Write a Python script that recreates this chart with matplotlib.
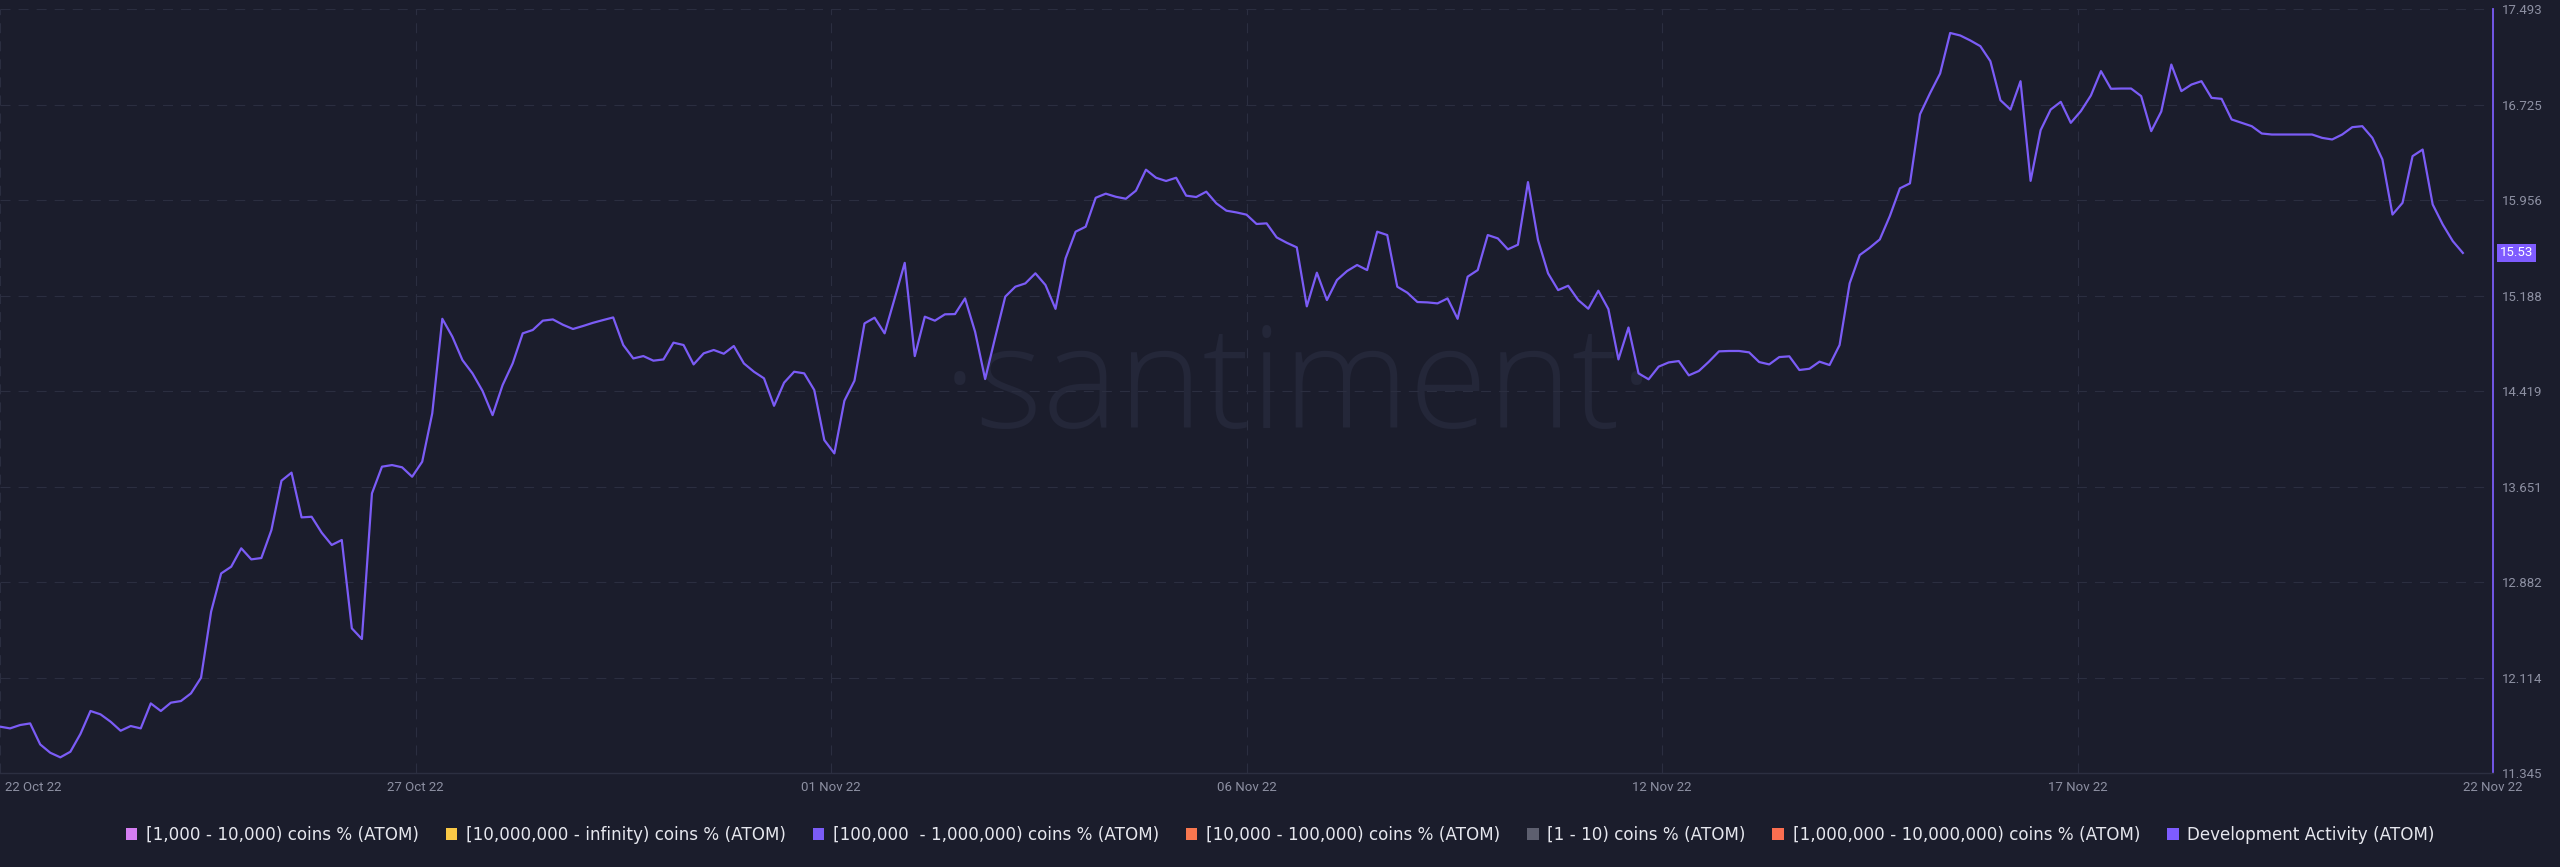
import matplotlib
matplotlib.use("Agg")
import matplotlib.pyplot as plt
import matplotlib.dates as mdates
from matplotlib import transforms
from matplotlib.patches import Patch
import numpy as np
import pandas as pd

plt.rcParams["lines.scale_dashes"] = False

# ---------------- data ----------------
dev_activity = [
    11.718, 11.704, 11.731, 11.744, 11.575, 11.508, 11.471, 11.516, 11.659, 11.844,
    11.817, 11.758, 11.685, 11.723, 11.704, 11.905, 11.844, 11.911, 11.924, 11.986,
    12.112, 12.643, 12.951, 13.005, 13.153, 13.064, 13.075, 13.300, 13.697, 13.762,
    13.402, 13.407, 13.279, 13.180, 13.220, 12.509, 12.423, 13.595, 13.810, 13.823,
    13.805, 13.729, 13.850, 14.239, 15.000, 14.856, 14.668, 14.561, 14.420, 14.225,
    14.467, 14.641, 14.883, 14.910, 14.985, 14.995, 14.952, 14.918, 14.942, 14.968,
    14.990, 15.011, 14.789, 14.681, 14.700, 14.663, 14.673, 14.808, 14.789, 14.633,
    14.722, 14.749, 14.719, 14.781, 14.641, 14.574, 14.521, 14.300, 14.486, 14.574,
    14.561, 14.427, 14.024, 13.917, 14.341, 14.502, 14.963, 15.009, 14.883, 15.164,
    15.450, 14.700, 15.017, 14.985, 15.036, 15.038, 15.164, 14.896, 14.515, 14.850,
    15.178, 15.258, 15.285, 15.366, 15.272, 15.080, 15.486, 15.701, 15.741, 15.974,
    16.007, 15.982, 15.966, 16.031, 16.200, 16.135, 16.109, 16.135, 15.991, 15.980,
    16.023, 15.929, 15.870, 15.856, 15.838, 15.763, 15.768, 15.655, 15.612, 15.575,
    15.100, 15.371, 15.151, 15.312, 15.384, 15.433, 15.392, 15.701, 15.674, 15.258,
    15.210, 15.135, 15.132, 15.124, 15.164, 15.000, 15.339, 15.392, 15.674, 15.647,
    15.559, 15.596, 16.100, 15.634, 15.366, 15.231, 15.266, 15.151, 15.081, 15.226,
    15.078, 14.673, 14.930, 14.561, 14.513, 14.615, 14.649, 14.660, 14.545, 14.580,
    14.655, 14.738, 14.741, 14.741, 14.730, 14.652, 14.633, 14.692, 14.698, 14.588,
    14.598, 14.655, 14.628, 14.789, 15.285, 15.513, 15.572, 15.639, 15.827, 16.050,
    16.090, 16.646, 16.816, 16.974, 17.300, 17.280, 17.240, 17.194, 17.073, 16.759,
    16.684, 16.912, 16.110, 16.518, 16.684, 16.746, 16.577, 16.671, 16.797, 16.993,
    16.851, 16.853, 16.853, 16.792, 16.510, 16.668, 17.046, 16.832, 16.885, 16.912,
    16.778, 16.770, 16.604, 16.577, 16.550, 16.491, 16.483, 16.483, 16.483, 16.483,
    16.483, 16.456, 16.443, 16.483, 16.542, 16.550, 16.456, 16.282, 15.839, 15.933,
    16.309, 16.362, 15.920, 15.759, 15.625, 15.530,
]
start_time = "2022-10-22 00:00"
end_time = "2022-11-22 00:00"
sample_freq = "3h"

x_tick_labels = ["22 Oct 22", "27 Oct 22", "01 Nov 22", "06 Nov 22",
                 "12 Nov 22", "17 Nov 22", "22 Nov 22"]
y_tick_labels = ["11.345", "12.114", "12.882", "13.651", "14.419",
                 "15.188", "15.956", "16.725", "17.493"]

legend_labels = [
    "[1,000 - 10,000) coins % (ATOM)",
    "[10,000,000 - infinity) coins % (ATOM)",
    "[100,000  - 1,000,000) coins % (ATOM)",
    "[10,000 - 100,000) coins % (ATOM)",
    "[1 - 10) coins % (ATOM)",
    "[1,000,000 - 10,000,000) coins % (ATOM)",
    "Development Activity (ATOM)",
]
legend_colors = ["#d57ef2", "#f9c846", "#7b5cf6", "#f8774f",
                 "#5d5f6f", "#fb6e50", "#7e5cff"]

# ---------------- style ----------------
BG = "#1b1d2c"
GRID = "#2b2e40"
LINE = "#7b5cf6"
TICK = "#8d90a2"
WM = "#242739"
LABEL_BG = "#7f5cff"

timestamps = pd.date_range(start_time, periods=len(dev_activity), freq=sample_freq)
x0, x1 = pd.Timestamp(start_time), pd.Timestamp(end_time)

W, H = 2560, 867
fig = plt.figure(figsize=(W / 100, H / 100), dpi=100, facecolor=BG)
ax = fig.add_axes([0, 94 / H, 2493 / W, 764 / H])
ax.set_facecolor(BG)

ax.plot(timestamps, dev_activity, color=LINE, lw=1.6, solid_joinstyle="round", zorder=3)

ax.set_xlim(x0, x1)
ymin, ymax = float(y_tick_labels[0]), float(y_tick_labels[-1])
ax.set_ylim(ymin, ymax)

xt = np.linspace(mdates.date2num(x0), mdates.date2num(x1), len(x_tick_labels))
ax.set_xticks(xt)
ax.set_xticklabels(x_tick_labels)
yt = np.linspace(ymin, ymax, len(y_tick_labels))
ax.set_yticks(yt)
ax.set_yticklabels(y_tick_labels)
ax.yaxis.tick_right()

ax.tick_params(axis="y", length=0, pad=6.5, labelsize=9.5, labelcolor=TICK)
ax.tick_params(axis="x", length=0, pad=6, labelsize=9.5, labelcolor=TICK)
for lbl in ax.get_xticklabels() + ax.get_yticklabels():
    lbl.set_fontfamily("Roboto")
first = ax.get_xticklabels()[0]
first.set_ha("left")
first.set_transform(first.get_transform() + transforms.ScaledTranslation(5 / 100, 0, fig.dpi_scale_trans))

ax.grid(True, color=GRID, lw=0.8, linestyle=(0, (7.2, 5.8)), zorder=0)

for s in ("top", "left"):
    ax.spines[s].set_visible(False)
ax.spines["bottom"].set_color("#2c2f41")
ax.spines["bottom"].set_linewidth(1.0)
ax.spines["right"].set_color(LINE)
ax.spines["right"].set_linewidth(1.3)

# watermark
ax.text(0.521, 0.452, "\u00b7santiment\u00b7", transform=ax.transAxes, ha="center",
        va="baseline", fontsize=103, family="Open Sans", weight="light", color=WM, zorder=1)

# last value label
ax.annotate(f"{dev_activity[-1]:.2f}", xy=(1, dev_activity[-1]),
            xycoords=("axes fraction", "data"), xytext=(5.2, 0), textcoords="offset points",
            ha="left", va="center", color="white", fontsize=9.5, family="Roboto",
            bbox=dict(boxstyle="square,pad=0.22", fc=LABEL_BG, ec="none"),
            annotation_clip=False, zorder=5)

# legend
handles = [Patch(facecolor=c, edgecolor="none") for c in legend_colors]
fig.legend(handles, legend_labels, loc="center", bbox_to_anchor=(0.5, 1 - 835 / H),
           ncol=len(legend_labels), frameon=False, handlelength=0.7, handleheight=0.7,
           handletextpad=0.5, columnspacing=1.6, borderaxespad=0, borderpad=0,
           prop={"family": "DejaVu Sans", "size": 12.1}, labelcolor="#e6e7ee")

fig.savefig("out.png", dpi=100, facecolor=BG)
